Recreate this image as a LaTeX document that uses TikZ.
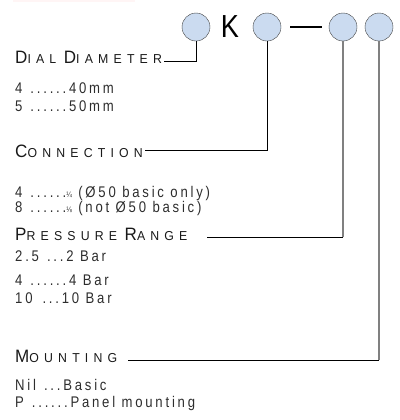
\documentclass[tikz,border=0pt]{standalone}
\usepackage{fontspec}
\setmainfont{Liberation Sans}[FakeStretch=0.85,LetterSpace=18]
\newfontfamily\titrefont{Liberation Sans}[FakeStretch=0.95,LetterSpace=40]
\definecolor{bleuclair}{RGB}{203,219,240}
\definecolor{texte}{RGB}{45,45,45}
\newcommand\petitcap[2]{{\fontsize{18}{18}\selectfont #1}{\fontsize{13}{13}\selectfont #2}}
\tikzset{
	bulle/.style={circle,draw=black!75,fill=bleuclair,minimum size=28bp,inner sep=0pt},
	titre/.style={anchor=base west,inner sep=0pt,text=black!90,font=\titrefont},
	ligne/.style={anchor=base west,inner sep=0pt,font=\fontsize{15.5}{15.5}\selectfont,text=texte},
	renvoi/.style={draw=black,line width=0.8bp},
	renvoigris/.style={draw=black!50,line width=1.2bp}
}
\begin{document}
\begin{tikzpicture}[x=1bp,y=-1bp]
	\useasboundingbox (0,0) rectangle (400,420);
	\fill[red!4] (13,0) rectangle (135,2);
	% le code : bulles, K et tiret
	\node[bulle] (c1) at (196,27) {};
	\node[inner sep=0pt,font=\fontsize{32}{32}\selectfont] (k) at (230,27) {K};
	\node[bulle] (c2) at (267,27) {};
	\draw[line width=2.5bp] (290,27) -- (322,27);
	\node[bulle] (c3) at (343,27) {};
	\node[bulle] (c4) at (379,27) {};
	% les rubriques
	\node[titre] (dial) at (15,63) {\petitcap{D}{IAL}\hspace{1bp} \petitcap{D}{IAMETER}};
	\node[ligne] (d4) at (15,93) {4\hspace{8bp}......40mm};
	\node[ligne] (d5) at (15,111) {5\hspace{8bp}......50mm};
	\node[titre] (conn) at (15,157) {\petitcap{C}{ONNECTION}};
	\node[ligne] (c4l) at (15,197) {4\hspace{8bp}......{\fontsize{8}{8}\selectfont ¼} (Ø50 basic only)};
	\node[ligne] (c8l) at (15,212) {8\hspace{8bp}......{\fontsize{8}{8}\selectfont ⅛} (not Ø50 basic)};
	\node[titre] (press) at (15,240) {\petitcap{P}{RESSURE}\hspace{1bp} \petitcap{R}{ANGE}};
	\node[ligne] (p2) at (15,261) {2.5\hspace{8bp}...2 Bar};
	\node[ligne] (p4) at (15,285) {4\hspace{8bp}......4 Bar};
	\node[ligne] (p10) at (15,303) {10\hspace{10bp}...10 Bar};
	\node[titre] (mount) at (15,362) {\petitcap{M}{OUNTING}};
	\node[ligne] (mnil) at (15,390) {Nil\hspace{8bp}...Basic};
	\node[ligne] (mp) at (15,407) {P\hspace{8bp}......Panel mounting};
	% les renvois
	\draw[renvoi] (c1.south) |- ([xshift=2bp,yshift=2bp]dial.base east);
	\draw[renvoi] (c2.south) |- ([xshift=2bp,yshift=7bp]conn.base east);
	\draw[renvoigris] (c3.south) -- ([yshift=3bp]c3.south |- press.base) coordinate (k3);
	\draw[renvoi] (k3) -- ([xshift=19bp,yshift=3bp]press.base east);
	\draw[renvoigris] (c4.south) -- ([yshift=2bp]c4.south |- mount.base) coordinate (k4);
	\draw[renvoi] (k4) -- ([xshift=11bp,yshift=2bp]mount.base east);
\end{tikzpicture}
\end{document}
